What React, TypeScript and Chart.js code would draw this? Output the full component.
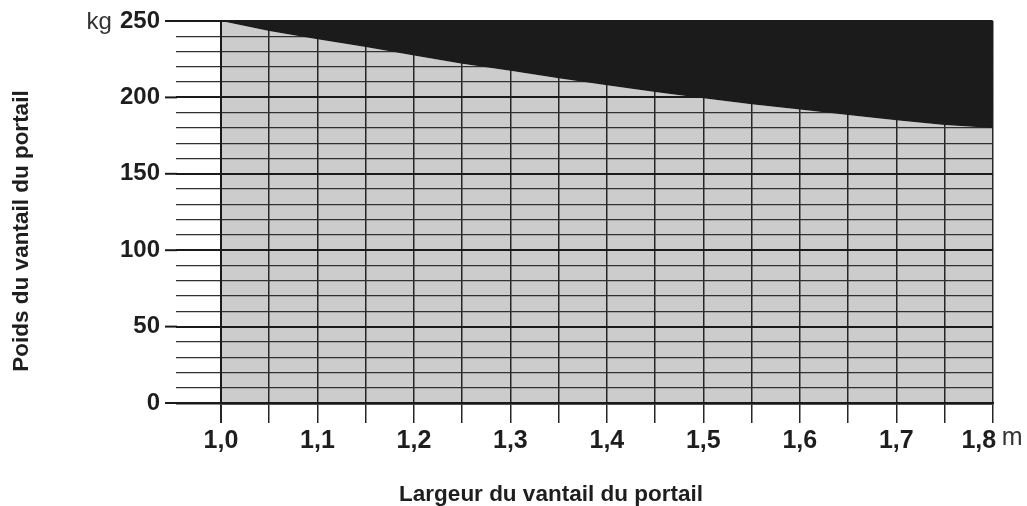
import React, { useEffect, useRef } from 'react';
import { Chart, registerables } from 'chart.js';

Chart.register(...registerables);

// ---- data ----
const widths = [1.0, 1.05, 1.1, 1.15, 1.2, 1.25, 1.3, 1.35, 1.4, 1.45, 1.5, 1.55, 1.6, 1.65, 1.7, 1.75, 1.8];
const maxWeights = [250, 243.5, 238, 233, 227.5, 222, 217.5, 212.5, 208, 203.5, 199.5, 195.5, 192, 188.5, 185, 182, 180];
const xTickLabels = ['1,0', '1,1', '1,2', '1,3', '1,4', '1,5', '1,6', '1,7', '1,8'];
const yTickLabels = ['0', '50', '100', '150', '200', '250'];
const xUnit = 'm';
const yUnit = 'kg';
const xTitle = 'Largeur du vantail du portail';
const yTitle = 'Poids du vantail du portail';

const FONT = '"Liberation Sans", Arial, Helvetica, sans-serif';
const TEXT = '#1e1e1e';
const GRAY = '#cbcccb';
const BLACK = '#1b1b1b';
const X_FONT = 25;
const Y_FONT = 24;

const overlayPlugin = {
  id: 'overlay',
  afterDraw(chart: any) {
    const { ctx, chartArea, scales } = chart;
    const meta = chart.getDatasetMeta(0);
    const ys = scales.y;
    const xs = scales.x;
    ctx.save();
    // black area above the curve
    ctx.beginPath();
    meta.data.forEach((p: any, i: number) => {
      if (i === 0) ctx.moveTo(p.x, p.y);
      else ctx.lineTo(p.x, p.y);
    });
    ctx.lineTo(chartArea.right, chartArea.top);
    ctx.lineTo(chartArea.left, chartArea.top);
    ctx.closePath();
    ctx.fillStyle = BLACK;
    ctx.fill();

    // longer tick marks on major y values
    ctx.strokeStyle = '#1a1a1a';
    ctx.lineWidth = 2;
    ys.ticks.forEach((t: any) => {
      if (t.value % 50 === 0) {
        const py = ys.getPixelForValue(t.value);
        ctx.beginPath();
        ctx.moveTo(chartArea.left - 56, py);
        ctx.lineTo(chartArea.left - 44, py);
        ctx.stroke();
      }
    });

    // units
    const py = ys.getPixelForValue(ys.max);
    ctx.font = 'bold ' + Y_FONT + 'px ' + FONT;
    const wTop = ctx.measureText(yTickLabels[yTickLabels.length - 1]).width;
    ctx.font = Y_FONT + 'px ' + FONT;
    ctx.fillStyle = '#333';
    ctx.textAlign = 'right';
    ctx.textBaseline = 'middle';
    ctx.fillText(yUnit, chartArea.left - 61 - wTop - 8, py + 1);

    const px = xs.getPixelForValue(xs.max);
    ctx.font = X_FONT + 'px ' + FONT;
    ctx.textAlign = 'left';
    ctx.textBaseline = 'top';
    ctx.fillText(xUnit, px + 9, chartArea.bottom + 23);

    // axis titles
    ctx.fillStyle = TEXT;
    ctx.font = 'bold 22.5px ' + FONT;
    ctx.textAlign = 'center';
    ctx.textBaseline = 'middle';
    ctx.fillText(xTitle, 551, 495);
    ctx.translate(22, 231);
    ctx.rotate(-Math.PI / 2);
    ctx.fillText(yTitle, 0, 0);
    ctx.restore();
  },
};

export default function App() {
  const ref = useRef<HTMLCanvasElement>(null);
  useEffect(() => {
    if (!ref.current) return;
    const chart = new Chart(ref.current, {
      type: 'line',
      data: {
        datasets: [
          {
            data: widths.map((w, i) => ({ x: w, y: maxWeights[i] })),
            borderWidth: 0,
            borderColor: GRAY,
            backgroundColor: GRAY,
            fill: 'origin',
            pointRadius: 0,
            tension: 0,
          },
        ],
      },
      options: {
        animation: false,
        responsive: false,
        layout: { padding: { left: 71, top: 21, right: 34, bottom: 43 } },
        plugins: { legend: { display: false }, tooltip: { enabled: false } },
        scales: {
          x: {
            type: 'linear',
            min: 1.0,
            max: 1.8,
            afterFit: (s: any) => {
              s.height = 60;
            },
            border: { display: true, color: '#1a1a1a', width: 2.5, z: 1 },
            grid: {
              z: 1,
              color: '#262626',
              lineWidth: (c: any) => (c.index === 0 ? 2 : 1.5),
              tickLength: 20,
              drawTicks: true,
            },
            ticks: {
              stepSize: 0.05,
              autoSkip: false,
              maxRotation: 0,
              padding: 3,
              color: TEXT,
              font: { family: FONT, size: X_FONT, weight: 'bold' },
              callback: (v: any) => {
                const k = Math.round(Number(v) * 20);
                if (k % 2 !== 0) return '';
                const idx = (k - 20) / 2;
                const label = xTickLabels[idx];
                return idx === xTickLabels.length - 1 ? label + '    ' : label;
              },
            },
          },
          y: {
            type: 'linear',
            min: 0,
            max: 250,
            afterFit: (s: any) => {
              s.width = 150;
              s.paddingTop = 0;
              s.paddingBottom = 0;
            },
            border: { display: true, color: '#1a1a1a', width: 2, z: 1 },
            grid: {
              z: 1,
              color: (c: any) => (c.tick && c.tick.value % 50 === 0 ? '#1a1a1a' : '#303030'),
              lineWidth: (c: any) => (c.tick && c.tick.value === 0 ? 2.5 : c.tick && c.tick.value % 50 === 0 ? 2 : 1.3),
              tickLength: 45,
              drawTicks: true,
            },
            ticks: {
              stepSize: 10,
              autoSkip: false,
              padding: 16,
              color: TEXT,
              font: { family: FONT, size: Y_FONT, weight: 'bold' },
              callback: (v: any) => {
                const n = Number(v);
                return n % 50 === 0 ? yTickLabels[n / 50] : '';
              },
            },
          },
        },
      },
      plugins: [overlayPlugin],
    });
    return () => chart.destroy();
  }, []);
  return (
    <canvas
      ref={ref}
      width={1027}
      height={506}
      style={{ position: 'absolute', left: 0, top: 0, display: 'block' }}
    />
  );
}
